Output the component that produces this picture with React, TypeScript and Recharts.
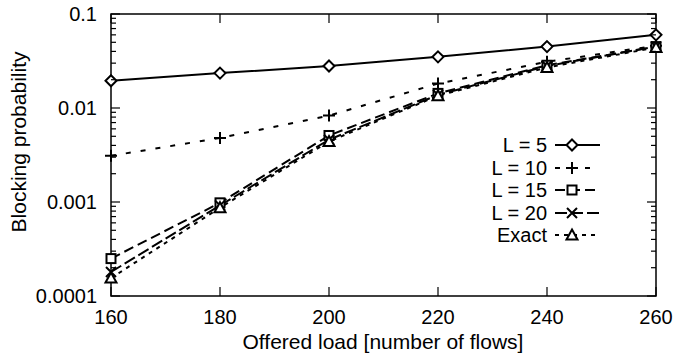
import React from 'react';
import { LineChart, Line, XAxis, YAxis, Legend, ReferenceArea } from 'recharts';

const loads = [160, 180, 200, 220, 240, 260];
const l5 = [0.0195, 0.0235, 0.028, 0.035, 0.045, 0.06];
const l10 = [0.0031, 0.0048, 0.0083, 0.0182, 0.031, 0.046];
const l15 = [0.00025, 0.00098, 0.0051, 0.0143, 0.0285, 0.045];
const l20 = [0.00018, 0.00092, 0.0046, 0.0138, 0.028, 0.045];
const exact = [0.000155, 0.00087, 0.0044, 0.0135, 0.027, 0.044];

const xTicks = [160, 180, 200, 220, 240, 260];
const decades = [0.0001, 0.001, 0.01, 0.1];

const W = 673;
const H = 356;
const PLOT_L = 111;
const PLOT_R = 656;
const PLOT_T = 14;
const PLOT_B = 296;
const FONT = '"Liberation Sans", Arial, sans-serif';

const data = loads.map((x, i) => ({ load: x, l5: l5[i], l10: l10[i], l15: l15[i], l20: l20[i], exact: exact[i] }));

// minor ticks of the log axis: 1..9 x each decade
const yTicks: number[] = [];
decades.slice(0, 3).forEach(d => {
  for (let k = 1; k < 10; k++) yTicks.push(+(d * k).toPrecision(3));
});
yTicks.push(0.1);

const isDecade = (v: number) => decades.some(d => Math.abs(d - v) < d * 1e-6);

const Marker = ({ kind, cx, cy }: { kind: string; cx: number; cy: number }) => {
  const s = { stroke: '#000', strokeWidth: 2, fill: '#fff' };
  if (kind === 'diamond') return <path d={`M${cx},${cy - 5.5}L${cx + 5.5},${cy}L${cx},${cy + 5.5}L${cx - 5.5},${cy}Z`} {...s} />;
  if (kind === 'plus') return <path d={`M${cx - 6},${cy}H${cx + 6}M${cx},${cy - 6}V${cy + 6}`} {...s} fill="none" />;
  if (kind === 'square') return <rect x={cx - 4.5} y={cy - 4.5} width={9} height={9} {...s} />;
  if (kind === 'cross') return <path d={`M${cx - 5},${cy - 5}L${cx + 5},${cy + 5}M${cx - 5},${cy + 5}L${cx + 5},${cy - 5}`} {...s} fill="none" />;
  return <path d={`M${cx},${cy - 5.5}L${cx + 5.5},${cy + 4.5}L${cx - 5.5},${cy + 4.5}Z`} {...s} />;
};

const series = [
  { key: 'l5', name: 'L = 5', kind: 'diamond', dash: undefined },
  { key: 'l10', name: 'L = 10', kind: 'plus', dash: '5 10' },
  { key: 'l15', name: 'L = 15', kind: 'square', dash: '10 5' },
  { key: 'l20', name: 'L = 20', kind: 'cross', dash: '12 4' },
  { key: 'exact', name: 'Exact', kind: 'triangle', dash: '4 5' },
];

const YTick = ({ y, payload }: any) => {
  const major = isDecade(payload.value);
  const len = major ? 9 : 5;
  return (
    <g>
      <line x1={PLOT_L} x2={PLOT_L + len} y1={y} y2={y} stroke="#000" strokeWidth={1.2} />
      <line x1={PLOT_R} x2={PLOT_R - len} y1={y} y2={y} stroke="#000" strokeWidth={1.2} />
      {major && (
        <text x={PLOT_L - 14} y={y} dy={7} textAnchor="end" fontSize={20} fontFamily={FONT} fill="#000">
          {String(payload.value)}
        </text>
      )}
    </g>
  );
};

const XTick = ({ x, payload }: any) => (
  <g>
    <line x1={x} x2={x} y1={PLOT_B} y2={PLOT_B - 9} stroke="#000" strokeWidth={1.2} />
    <line x1={x} x2={x} y1={PLOT_T} y2={PLOT_T + 9} stroke="#000" strokeWidth={1.2} />
    <text x={x} y={PLOT_B + 28} textAnchor="middle" fontSize={20} fontFamily={FONT} fill="#000">
      {payload.value}
    </text>
  </g>
);

const YLabel = () => (
  <text x={0} y={0} transform="translate(26,142) rotate(-90)" textAnchor="middle" fontSize={21} fontFamily={FONT} fill="#000">
    Blocking probability
  </text>
);

const XLabel = () => (
  <text x={383} y={349} textAnchor="middle" fontSize={21} fontFamily={FONT} fill="#000">
    Offered load [number of flows]
  </text>
);

const LegendBox = () => (
  <div style={{ fontFamily: FONT, fontSize: 20, lineHeight: '22.5px', color: '#000' }}>
    {series.map(s => (
      <div key={s.key} style={{ display: 'flex', alignItems: 'center', height: 22.5 }}>
        <span style={{ width: 117, textAlign: 'right' }}>{s.name}</span>
        <svg width={56} height={22} style={{ display: 'block' }}>
          <line x1={8} x2={53} y1={11} y2={11} stroke="#000" strokeWidth={2} strokeDasharray={s.dash} />
          <Marker kind={s.kind} cx={25} cy={11} />
        </svg>
      </div>
    ))}
  </div>
);

export default function App() {
  document.body.style.margin = '0';
  return (
    <div style={{ width: W, height: H, background: '#fff' }}>
      <LineChart width={W} height={H} data={data} margin={{ top: PLOT_T, right: W - PLOT_R, bottom: 20, left: 0 }}>
        <XAxis
          dataKey="load"
          type="number"
          domain={[160, 260]}
          ticks={xTicks}
          height={H - PLOT_B - 20}
          axisLine={false}
          tickLine={false}
          tick={<XTick />}
          label={<XLabel />}
        />
        <YAxis
          type="number"
          scale="log"
          domain={[0.0001, 0.1]}
          allowDataOverflow
          ticks={yTicks}
          width={PLOT_L}
          axisLine={false}
          tickLine={false}
          tick={<YTick />}
          interval={0}
          label={<YLabel />}
        />
        <ReferenceArea x1={160} x2={260} y1={0.0001} y2={0.1} fill="none" stroke="#000" strokeWidth={1.5} />
        {series.map(s => (
          <Line
            key={s.key}
            dataKey={s.key}
            name={s.name}
            stroke="#000"
            strokeWidth={2}
            strokeDasharray={s.dash}
            isAnimationActive={false}
            dot={(p: any) => <Marker key={`${s.key}-${p.index}`} kind={s.kind} cx={p.cx} cy={p.cy} />}
          />
        ))}
        <Legend layout="vertical" align="center" verticalAlign="middle" content={<LegendBox />} wrapperStyle={{ top: 134, left: 430, width: 180 }} />
      </LineChart>
    </div>
  );
}
